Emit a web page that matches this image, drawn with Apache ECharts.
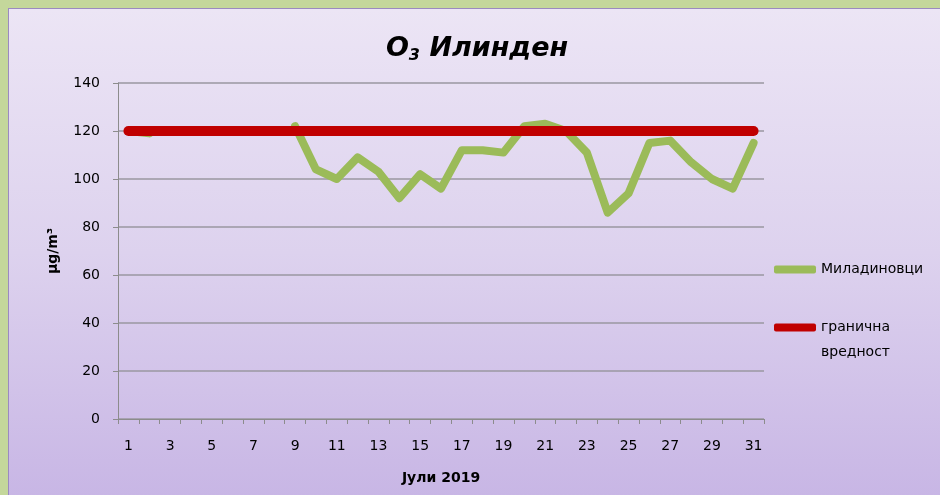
<!DOCTYPE html>
<html>
<head>
<meta charset="utf-8">
<script src="https://cdn.jsdelivr.net/npm/echarts@6/dist/echarts.min.js"></script>
<style>
  html, body { margin: 0; padding: 0; background: #c4d79b; }
  #frame {
    position: absolute; left: 8px; top: 8px; width: 932px; height: 487px;
    background: linear-gradient(to bottom, #ece5f5 0%, #ddd2ee 50%, #c8b6e5 100%);
    border-top: 1px solid #9b8ac0; border-left: 1px solid #9b8ac0;
  }
  #chart { position: absolute; left: -8px; top: -8px; width: 940px; height: 495px; }
</style>
</head>
<body>
<div id="frame"><div id="chart"></div></div>
<script>
// days of July 2019
const days = [];
for (let d = 1; d <= 31; d++) days.push(String(d));

// O3 daily values, station Миладиновци (µg/m3), gaps = no data
const miladinovci = [120, 119, null, null, null, null, null, null, 122, 104,
  100, 109, 103, 92, 102, 96, 112, 112, 111, 122,
  123, 120, 111, 86, 94, 115, 116, 107, 100, 96, 115];

// limit value
const limitValue = [120, 120, 120, 120, 120, 120, 120, 120, 120, 120,
  120, 120, 120, 120, 120, 120, 120, 120, 120, 120,
  120, 120, 120, 120, 120, 120, 120, 120, 120, 120, 120];

const font = '"DejaVu Sans", sans-serif';

let legendText = { fontFamily: font, fontSize: 14, color: '#000', lineHeight: 25 };

let myChart = echarts.init(document.getElementById('chart'));
let option = {
  backgroundColor: 'transparent',
  animation: false,
  title: {
    text: 'O{sub|3} Илинден',
    left: 471,
    textAlign: 'center',
    top: 28,
    textStyle: {
      fontFamily: font, fontSize: 27, fontWeight: 'bold', fontStyle: 'italic', color: '#000',
      rich: {
        sub: { fontFamily: font, fontSize: 16, fontWeight: 'bold', color: '#000', verticalAlign: 'bottom', padding: [14, 0, 0, 0] }
      }
    }
  },
  grid: { left: 117, right: 177, top: 82, bottom: 77 },
  legend: [
    {
      left: 768,
      top: 251,
      icon: 'roundRect',
      itemWidth: 42,
      itemHeight: 8,
      textStyle: legendText,
      data: ['Миладиновци']
    },
    {
      left: 768,
      top: 284,
      icon: 'roundRect',
      itemWidth: 42,
      itemHeight: 8,
      // blank first line keeps the first word level with the icon
      formatter: function (name) { return '\n' + name.replace(' ', '\n'); },
      textStyle: legendText,
      data: ['гранична вредност']
    }
  ],
  xAxis: {
    type: 'category',
    data: days,
    boundaryGap: true,
    name: 'Јули 2019',
    nameLocation: 'middle',
    nameGap: 52,
    nameTextStyle: { fontFamily: font, fontSize: 14, fontWeight: 'bold', color: '#000' },
    axisLine: { lineStyle: { color: '#8c8c8c', width: 1 } },
    axisTick: { show: true, interval: 0, alignWithLabel: false, length: 5, lineStyle: { color: '#8c8c8c' } },
    axisLabel: { interval: 1, fontFamily: font, fontSize: 14, color: '#000', margin: 20 },
    splitLine: { show: false }
  },
  yAxis: {
    type: 'value',
    min: 0, max: 140, interval: 20,
    name: 'µg/m³',
    nameLocation: 'middle',
    nameRotate: 90,
    nameGap: 58,
    nameTextStyle: { fontFamily: font, fontSize: 14, fontWeight: 'bold', color: '#000' },
    axisLine: { show: true, lineStyle: { color: '#8c8c8c' } },
    axisTick: { show: true, length: 5, lineStyle: { color: '#8c8c8c' } },
    axisLabel: { fontFamily: font, fontSize: 14, color: '#000', margin: 18 },
    splitLine: { lineStyle: { color: '#9a97a0', width: 1.5 } }
  },
  series: [
    {
      name: 'Миладиновци',
      type: 'line',
      data: miladinovci,
      connectNulls: false,
      showSymbol: false,
      symbol: 'none',
      color: '#9bbb59',
      lineStyle: { width: 8, color: '#9bbb59', cap: 'round', join: 'round' },
      z: 2
    },
    {
      name: 'гранична вредност',
      type: 'line',
      data: limitValue,
      showSymbol: false,
      symbol: 'none',
      color: '#c00000',
      lineStyle: { width: 10, color: '#c00000', cap: 'round', join: 'round' },
      z: 3
    }
  ]
};
myChart.setOption(option);
</script>
</body>
</html>
